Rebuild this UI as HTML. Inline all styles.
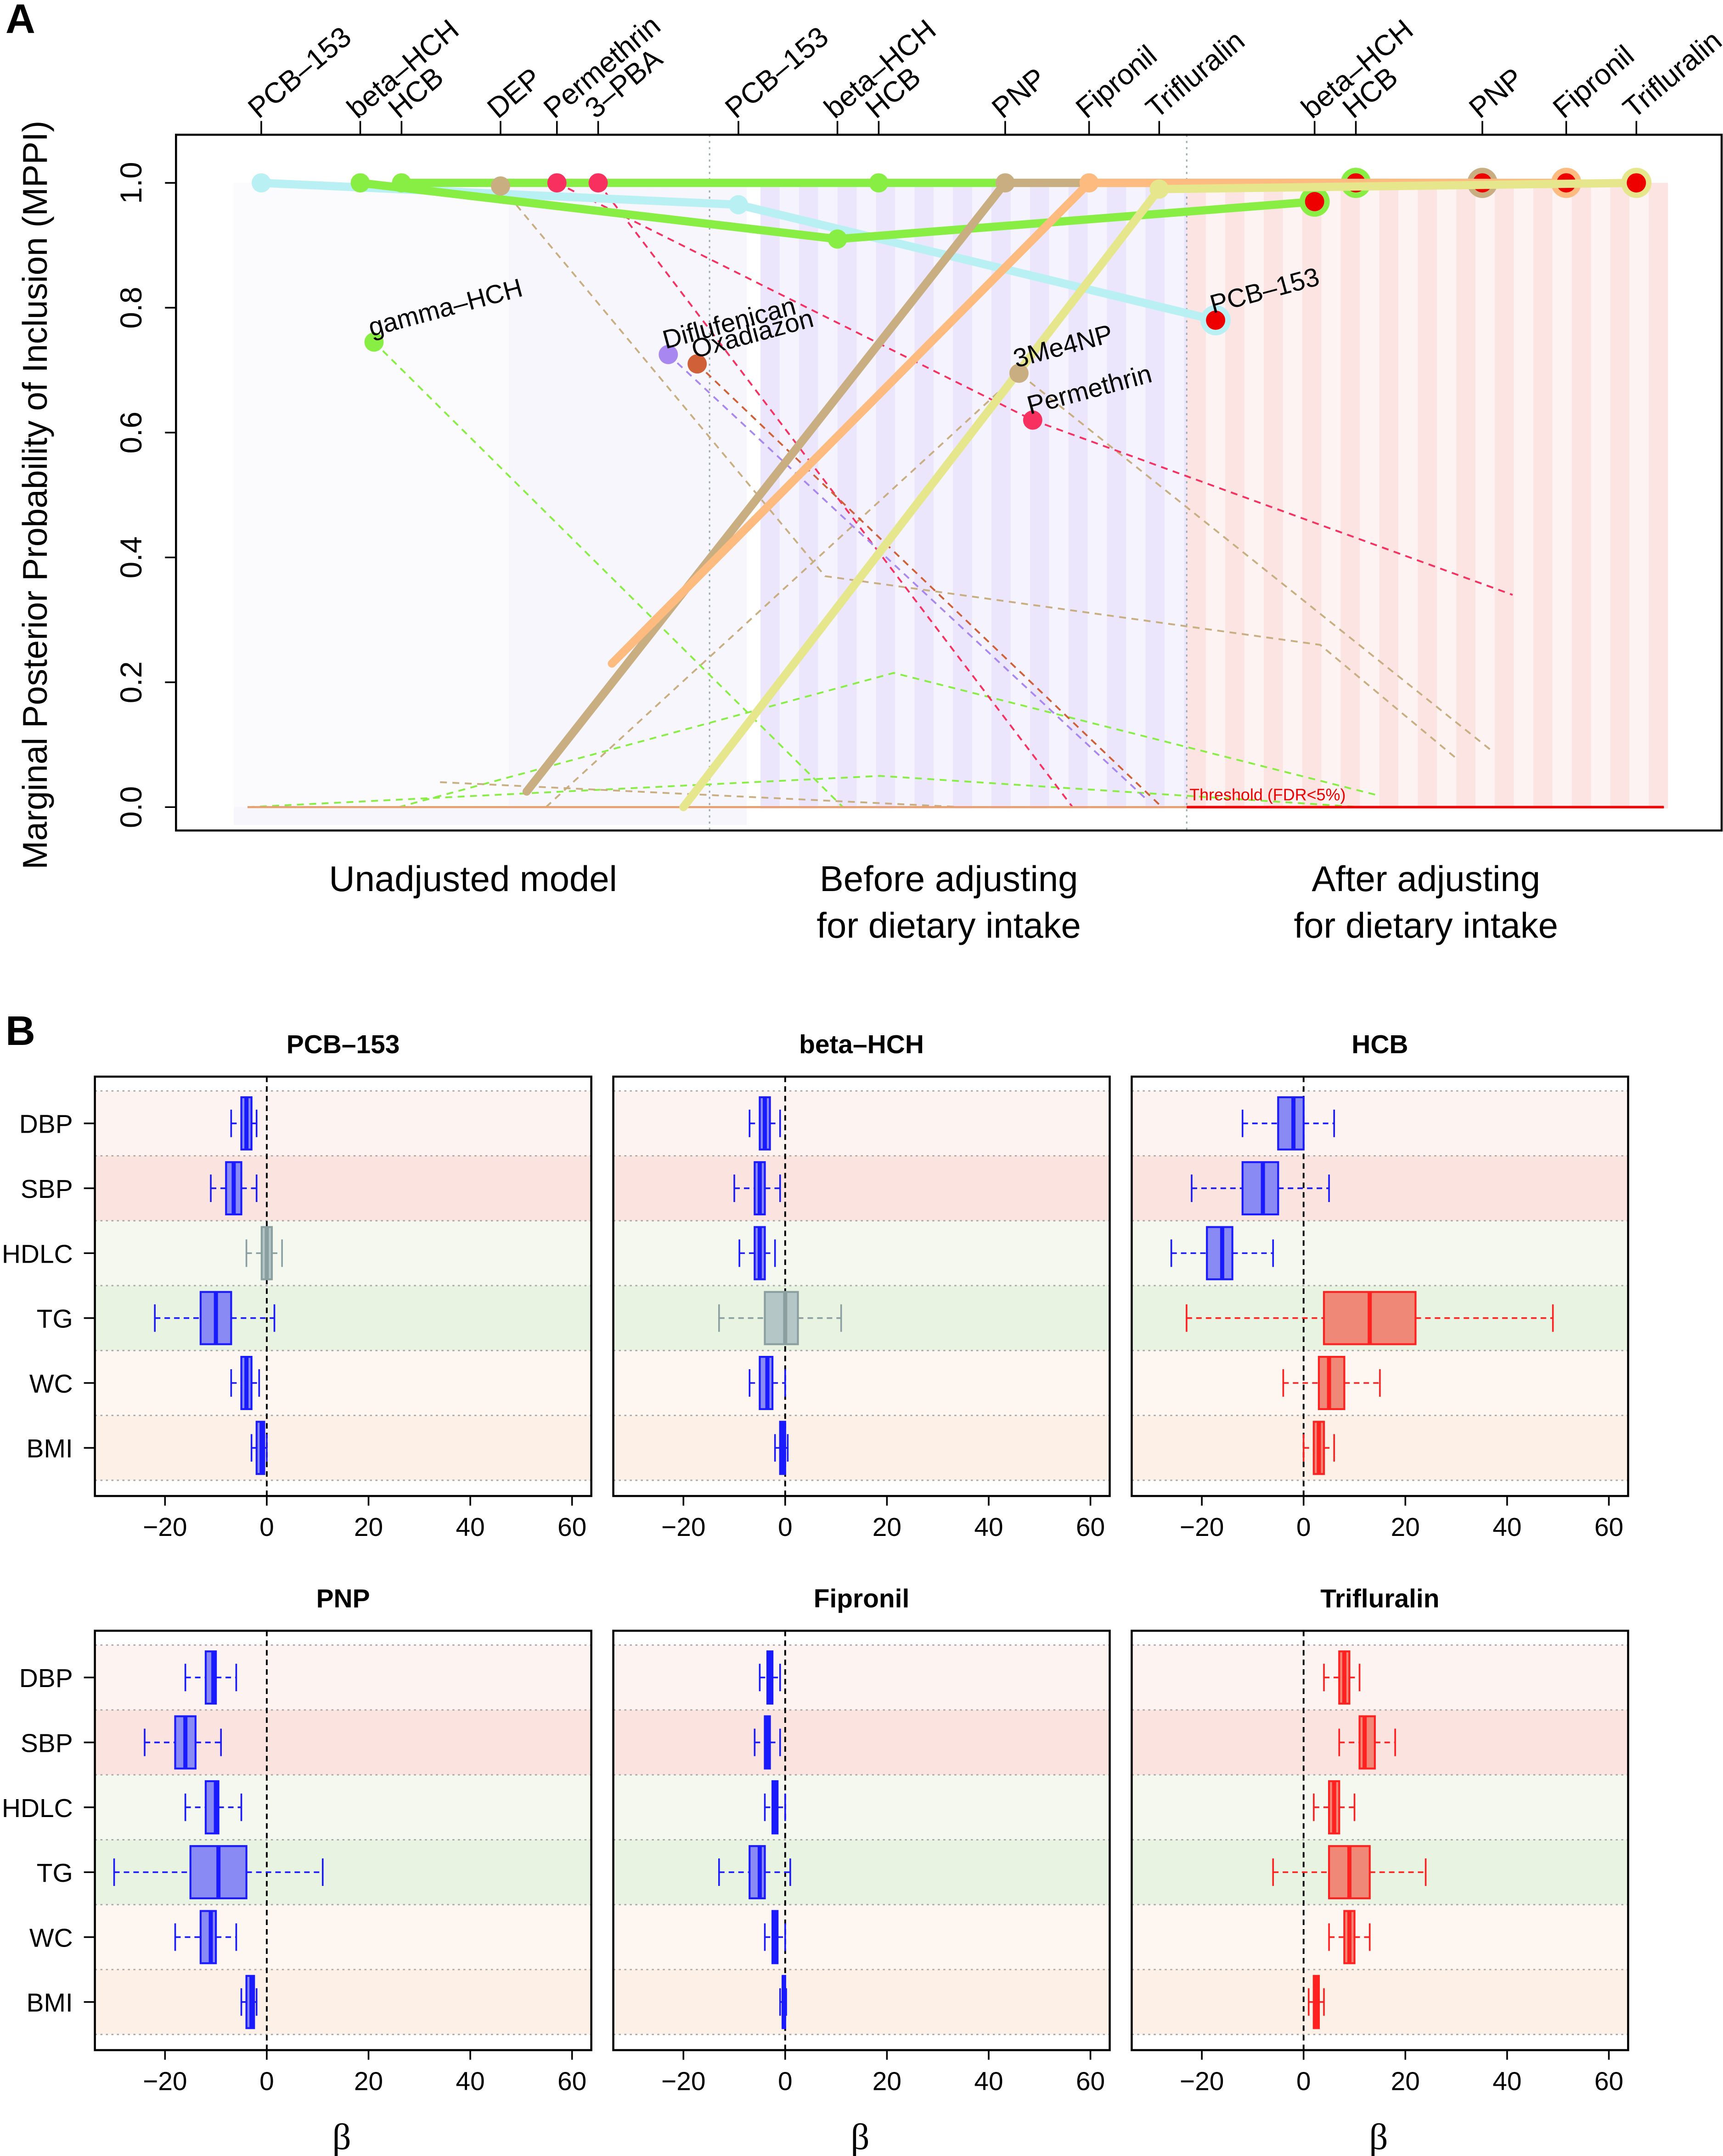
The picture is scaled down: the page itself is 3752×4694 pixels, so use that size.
<!DOCTYPE html>
<html><head><meta charset="utf-8"><style>
html,body{margin:0;padding:0;background:#fff}
svg{display:block;font-family:"Liberation Sans",sans-serif}
</style></head><body>
<svg id="c" width="3752" height="4694" viewBox="0 0 1253 1568" preserveAspectRatio="none" xmlns="http://www.w3.org/2000/svg"></svg>
<script>
// ---------- Panel A data ----------
const modelNames = ["Unadjusted model","Before adjusting|for dietary intake","After adjusting|for dietary intake"];
const topLabels = ["PCB-153","beta-HCH","HCB","DEP","Permethrin","3-PBA","PCB-153","beta-HCH","HCB","PNP","Fipronil","Trifluralin","beta-HCH","HCB","PNP","Fipronil","Trifluralin"];
const topLabelX = [190,262,292,364,405,435,537,609,639,731,792,843,956,986,1078,1139,1190];
const yTicks = [0,0.2,0.4,0.6,0.8,1.0];
const seriesNames = ["PCB-153","beta-HCH","HCB","PNP","Fipronil","Trifluralin"];
const seriesColors = ["#b8f0f4","#88ee44","#88ee44","#c8ae80","#fdbb80","#e6e68c"];
const seriesX = [[190,537,884],[262,609,956],[292,639,986],[383,731,1078],[445,792,1139],[497,843,1190]];
const seriesVals = [[1.0,0.965,0.78],[1.0,0.91,0.97],[1.0,1.0,1.0],[0.025,1.0,1.0],[0.23,1.0,1.0],[0.0,0.99,1.0]];
const seriesDots = [[true,true,true],[true,true,true],[true,true,true],[false,true,true],[false,true,true],[false,true,true]];
const ptNames = ["DEP","Permethrin","3-PBA","gamma-HCH","Diflufenican","Oxadiazon","3Me4NP","Permethrin"];
const ptX = [364,405,435,272,486,507,741,751];
const ptVals = [0.995,1.0,1.0,0.745,0.725,0.71,0.695,0.62];
const ptColors = ["#c8ae80","#f83060","#f83060","#88ee44","#a888f0","#d06038","#c8ae80","#f83060"];
const ptShowLabel = [false,false,false,true,true,true,true,true];
const dashX = [[272,613],[290,650,1000],[180,640,990],[364,600,960,1058],[397,741,1085],[405,751,1100],[435,780],[507,845],[486,835],[320,700,1000]];
const dashV = [[0.745,0.0],[0.0,0.215,0.02],[0.0,0.05,0.0],[0.995,0.37,0.26,0.08],[0.0,0.695,0.09],[1.0,0.62,0.34],[1.0,0.0],[0.71,0.0],[0.725,0.01],[0.04,0.0,0.0]];
const dashC = ["#88ee44","#88ee44","#88ee44","#c8ae80","#c8ae80","#f83060","#f83060","#d06038","#a888f0","#c8ae80"];

// ---------- Panel B data ----------
const outcomes = ["DBP","SBP","HDLC","TG","WC","BMI"];
const chemicals = ["PCB-153","beta-HCH","HCB","PNP","Fipronil","Trifluralin"];
const xTicks = [-20,0,20,40,60];
const stats_PCB153 = [[-7,-5,-4,-3,-2],[-11,-8,-6.5,-5,-2],[-4,-1,0,1,3],[-22,-13,-10,-7,1.5],[-7,-5,-4,-3,-1.5],[-3,-2,-1,-0.5,0]];
const stats_betaHCH = [[-7,-5,-4,-3,-1],[-10,-6,-5,-4,-1],[-9,-6,-5,-4,-2],[-13,-4,0,2.5,11],[-7,-5,-3.5,-2.5,0],[-2,-1,-0.5,0,0.5]];
const stats_HCB = [[-12,-5,-2,0,6],[-22,-12,-8,-5,5],[-26,-19,-16,-14,-6],[-23,4,13,22,49],[-4,3,5,8,15],[0,2,3,4,6]];
const stats_PNP = [[-16,-12,-10.5,-10,-6],[-24,-18,-16,-14,-9],[-16,-12,-10,-9.5,-5],[-30,-15,-9.5,-4,11],[-18,-13,-11,-10,-6],[-5,-4,-3,-2.5,-2]];
const stats_Fipronil = [[-5,-3.5,-3,-2.5,-1],[-6,-4,-3.5,-3,-1],[-4,-2.5,-2,-1.5,0],[-13,-7,-5,-4,1],[-4,-2.5,-2,-1.5,0],[-1,-0.5,-0.3,0,0.2]];
const stats_Trifluralin = [[4,7,8,9,11],[7,11,12,14,18],[2,5,6,7,10],[-6,5,9,13,24],[5,8,9,10,13],[1,2,2.5,3,4]];
const allStats = [stats_PCB153,stats_betaHCH,stats_HCB,stats_PNP,stats_Fipronil,stats_Trifluralin];
const colorClass = [["b","b","g","b","b","b"],["b","b","b","g","b","b"],["b","b","b","r","r","r"],["b","b","b","b","b","b"],["b","b","b","b","b","b"],["r","r","r","r","r","r"]];
const bandColors = ["#fdf3f1","#fbe3df","#f4f8ef","#e9f3e1","#fdf6f1","#fdf0e6"];

const NS="http://www.w3.org/2000/svg";
const svg=document.getElementById('c');
function el(tag,attrs,parent,text){const e=document.createElementNS(NS,tag);for(const k in attrs)e.setAttribute(k,attrs[k]);if(text!==undefined)e.textContent=text;(parent||svg).appendChild(e);return e;}

// Panel A
const yA = v => 587 - 454*v;
let g=el('g',{});


let t=el('text',{x:4,y:24,'font-size':30,'font-weight':'bold'},g,'A');


el('rect',{x:170,y:133,width:373,height:467,fill:'#f8f6fd'},g);
el('rect',{x:170,y:133,width:200,height:454,fill:'#fbfafd'},g);
for(let x=553;x<863;x+=14){el('rect',{x:x,y:133,width:14,height:455,fill:((x-553)/14)%2?'#f5f3fd':'#ebe6fb'},g);}
for(let x=863;x<1210;x+=14){el('rect',{x:x,y:133,width:14,height:455,fill:((x-863)/14)%2?'#fdf3f2':'#fbe4e2'},g);}
el('line',{x1:516,y1:98,x2:516,y2:604,stroke:'#99a8a8','stroke-dasharray':'1.5,3'},g);
el('line',{x1:863,y1:98,x2:863,y2:604,stroke:'#99a8a8','stroke-dasharray':'1.5,3'},g);
el('rect',{x:128,y:98,width:1124,height:506,fill:'none',stroke:'#000','stroke-width':1.5},g);
yTicks.forEach(v=>{const y=yA(v);el('line',{x1:120,y1:y,x2:128,y2:y,stroke:'#000','stroke-width':1.2},g);
 const tt=el('text',{x:97,y:y,'font-size':22,'text-anchor':'middle',transform:`rotate(-90 97 ${y})`,'dominant-baseline':'middle'},g,v.toFixed(1));
 
 });
el('line',{x1:128,y1:yA(0),x2:128,y2:yA(1),stroke:'#000','stroke-width':1.2},g);
t=el('text',{x:34,y:360,'font-size':25,'text-anchor':'middle',transform:'rotate(-90 34 360)'},g,'Marginal Posterior Probability of Inclusion (MPPI)');


topLabels.forEach((s,i)=>{const x=topLabelX[i];el('line',{x1:x,y1:88,x2:x,y2:98,stroke:'#000','stroke-width':1.2},g);
 const tt=el('text',{x:x-2,y:87,'font-size':21,transform:`rotate(-40 ${x-2} 87)`},g,s.replace('-','–'));
 
 });
dashX.forEach((xs,i)=>{const p=xs.map((x,j)=>x+','+yA(dashV[i][j])).join(' ');
 const l=el('polyline',{points:p,fill:'none',stroke:dashC[i],'stroke-width':1.3,'stroke-dasharray':'5,4'},g);
 
 });
el('line',{x1:180,y1:yA(0),x2:863,y2:yA(0),stroke:'#e8a070','stroke-width':1.5},g);
el('line',{x1:863,y1:yA(0),x2:1210,y2:yA(0),stroke:'#ee0000','stroke-width':1.8},g);
t=el('text',{x:865,y:582,'font-size':12,fill:'#ee0000'},g,'Threshold (FDR<5%)');


seriesX.forEach((xs,i)=>{const p=xs.map((x,j)=>x+','+yA(seriesVals[i][j])).join(' ');
 const l=el('polyline',{points:p,fill:'none',stroke:seriesColors[i],'stroke-width':6,'stroke-linecap':'round'},g);
 
 
 xs.forEach((x,j)=>{ if(!seriesDots[i][j])return;
  const after=j===2;
  const c=el('circle',{cx:x,cy:yA(seriesVals[i][j]),r:after?11:7,fill:seriesColors[i]},g);
  
  
  if(after) el('circle',{cx:x,cy:yA(seriesVals[i][j]),r:7,fill:'#ee0000'},g);
 });});
ptX.forEach((x,i)=>{const c=el('circle',{cx:x,cy:yA(ptVals[i]),r:7,fill:ptColors[i]},g);
 
 
 if(ptShowLabel[i]){const tt=el('text',{x:x-2,y:yA(ptVals[i])-4,'font-size':19,transform:`rotate(-15 ${x-2} ${yA(ptVals[i])-4})`},g,ptNames[i].replace('-','–'));
 
 }});
t=el('text',{x:882,y:228,'font-size':19,transform:'rotate(-15 882 228)'},g,'PCB–153');


[344,690,1037].forEach((cx,i)=>{modelNames[i].split('|').forEach((ln,k)=>{const tt=el('text',{x:cx,y:648+k*34,'font-size':26,'text-anchor':'middle'},g,ln);
 
 });});

// Panel B
const gb=el('g',{});


t=el('text',{x:4,y:760,'font-size':30,'font-weight':'bold'},gb,'B');


const colX=[69,446,823], rowY=[783,1186], PW=361, PH=305;
const fills={b:['#8a8af4','#1a1aff'],r:['#f08878','#ff2020'],g:['#b4c6c6','#8aa0a0']};
chemicals.forEach((chem,ci)=>{
 const px=colX[ci%3], py=rowY[Math.floor(ci/3)];
 const xs=v=>px+125+3.7*v;
 const rowC=k=>py+34+47.2*k;
 const pg=el('g',{},gb);
 
 
 outcomes.forEach((o,k)=>{el('rect',{x:px,y:rowC(k)-23.6,width:PW,height:47.2,fill:bandColors[k]},pg);});
 for(let k=0;k<=6;k++){const y=rowC(k)-23.6;el('line',{x1:px,y1:y,x2:px+PW,y2:y,stroke:'#aaa','stroke-dasharray':'1.5,2.5'},pg);}
 el('line',{x1:xs(0),y1:py,x2:xs(0),y2:py+PH,stroke:'#000','stroke-width':1.3,'stroke-dasharray':'4,3'},pg);
 outcomes.forEach((o,k)=>{const s=allStats[ci][k], c=fills[colorClass[ci][k]], y=rowC(k);
  el('line',{x1:xs(s[0]),y1:y,x2:xs(s[1]),y2:y,stroke:c[1],'stroke-width':1.2,'stroke-dasharray':'4,3'},pg);
  el('line',{x1:xs(s[3]),y1:y,x2:xs(s[4]),y2:y,stroke:c[1],'stroke-width':1.2,'stroke-dasharray':'4,3'},pg);
  el('line',{x1:xs(s[0]),y1:y-10,x2:xs(s[0]),y2:y+10,stroke:c[1],'stroke-width':1.2},pg);
  el('line',{x1:xs(s[4]),y1:y-10,x2:xs(s[4]),y2:y+10,stroke:c[1],'stroke-width':1.2},pg);
  const b=el('rect',{x:xs(s[1]),y:y-19,width:Math.max(xs(s[3])-xs(s[1]),1),height:38,fill:c[0],stroke:c[1],'stroke-width':1.4},pg);
  
  
  el('line',{x1:xs(s[2]),y1:y-19,x2:xs(s[2]),y2:y+19,stroke:c[1],'stroke-width':3},pg);
  if(ci%3===0){const tt=el('text',{x:px-16,y:y+7,'font-size':19,'text-anchor':'end'},pg,o);
   
   
   el('line',{x1:px-8,y1:y,x2:px,y2:y,stroke:'#000','stroke-width':1.2},pg);}
 });
 el('rect',{x:px,y:py,width:PW,height:PH,fill:'none',stroke:'#000','stroke-width':1.5},pg);
 xTicks.forEach(v=>{const x=xs(v);el('line',{x1:x,y1:py+PH,x2:x,y2:py+PH+7,stroke:'#000','stroke-width':1.2},pg);
  const tt=el('text',{x:x,y:py+PH+29,'font-size':19,'text-anchor':'middle'},pg,v<0?'−'+(-v):String(v));
  
  });
 const tt=el('text',{x:px+PW/2,y:py-17,'font-size':19,'font-weight':'bold','text-anchor':'middle'},pg,chem.replace('-','–'));
 
 
 if(ci>=3){const bt=el('text',{x:px+PW/2-1,y:1563,'font-size':27,'font-family':'Liberation Serif, serif','text-anchor':'middle'},pg,'β');
  
  }
});
</script>
</body></html>
